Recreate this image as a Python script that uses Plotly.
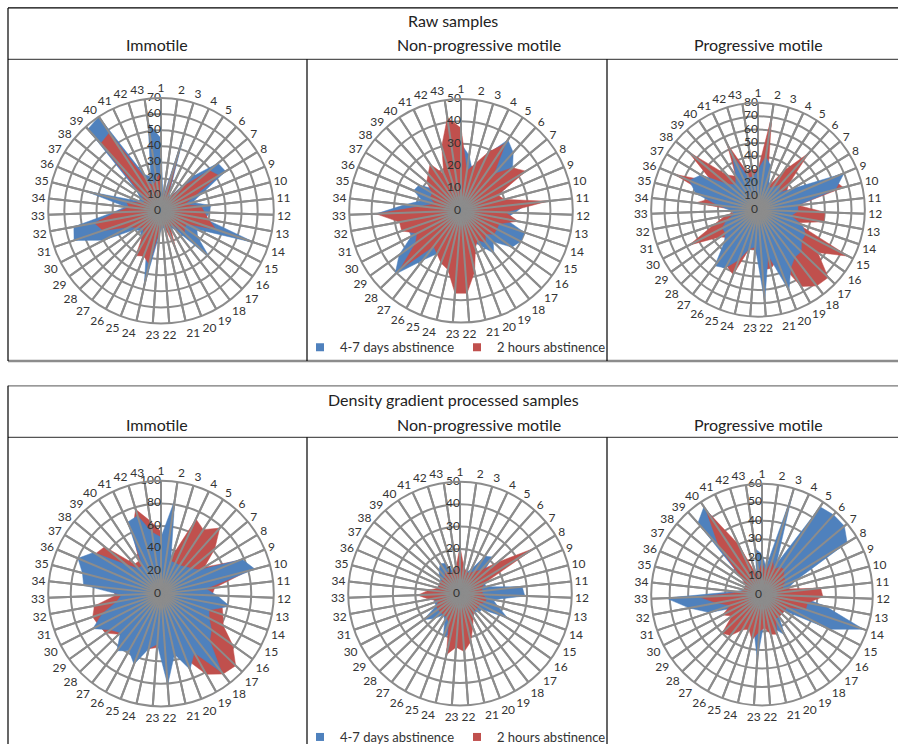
import plotly.graph_objects as go

W, H = 898, 752
categories = [str(i) for i in range(1, 44)]

# ---------- data ----------
raw_immotile_4_7d = [45, 8, 52, 12, 10, 28, 46, 47, 28, 20, 31, 30, 28, 62, 25, 28, 42, 15, 12, 15, 12, 10,
                     15, 48, 25, 25, 20, 18, 20, 40, 57, 55, 30, 22, 49, 15, 15, 20, 68, 70, 25, 22, 55]
raw_immotile_2h = [24, 5, 40, 10, 10, 20, 39, 42, 22, 15, 25, 27, 30, 36, 18, 18, 20, 10, 12, 26, 10, 8,
                   12, 34, 30, 32, 18, 15, 18, 22, 38, 42, 28, 20, 22, 12, 12, 16, 56, 58, 20, 16, 20]

raw_nonprog_4_7d = [30, 25, 18, 28, 38, 35, 30, 30, 18, 18, 30, 24, 20, 30, 30, 28, 20, 24, 18, 15, 20, 25,
                    25, 22, 22, 22, 28, 41, 34, 25, 25, 25, 38, 25, 18, 23, 22, 15, 15, 15, 15, 18, 25]
raw_nonprog_2h = [37, 18, 22, 29, 36, 22, 30, 34, 18, 20, 39, 20, 26, 18, 18, 18, 15, 18, 15, 18, 28, 37,
                  37, 27, 25, 22, 20, 38, 25, 22, 28, 28, 38, 18, 12, 15, 15, 20, 22, 25, 18, 30, 42]

raw_prog_4_7d = [30, 40, 34, 18, 20, 25, 20, 30, 70, 60, 30, 30, 25, 35, 40, 40, 45, 45, 50, 65, 35, 69,
                 28, 30, 40, 50, 53, 35, 30, 30, 25, 18, 20, 30, 48, 56, 50, 30, 25, 30, 45, 25, 25]
raw_prog_2h = [30, 71, 25, 20, 35, 57, 30, 25, 60, 66, 30, 50, 50, 30, 76, 55, 73, 72, 66, 40, 45, 45,
               30, 30, 52, 48, 40, 30, 35, 58, 35, 25, 15, 47, 35, 68, 40, 68, 35, 30, 55, 30, 30]

dg_immotile_4_7d = [50, 84, 30, 30, 30, 32, 35, 40, 78, 86, 40, 50, 62, 45, 48, 55, 60, 88, 60, 72, 55, 81,
                    45, 50, 67, 58, 64, 50, 55, 68, 55, 40, 35, 69, 72, 80, 70, 40, 30, 30, 70, 72, 55]
dg_immotile_2h = [55, 30, 35, 73, 68, 78, 62, 45, 75, 80, 48, 45, 55, 58, 62, 78, 92, 90, 82, 62, 56, 50,
                  48, 50, 50, 50, 50, 52, 60, 62, 64, 60, 40, 45, 60, 68, 68, 65, 35, 35, 60, 78, 65]

dg_nonprog_4_7d = [10, 12, 10, 12, 20, 22, 12, 15, 12, 12, 28, 29, 15, 18, 24, 12, 12, 10, 12, 14, 12, 10,
                   14, 18, 21, 14, 12, 16, 20, 12, 12, 12, 16, 12, 10, 10, 10, 12, 14, 16, 15, 10, 10]
dg_nonprog_2h = [21, 12, 10, 10, 12, 14, 22, 39, 12, 10, 10, 10, 12, 12, 10, 10, 10, 10, 12, 16, 22, 26,
                 24, 28, 14, 12, 12, 12, 12, 12, 10, 14, 19, 14, 10, 10, 10, 10, 10, 12, 10, 10, 12]

dg_prog_4_7d = [22, 15, 58, 18, 57, 58, 58, 54, 20, 15, 15, 20, 35, 58, 41, 15, 15, 15, 25, 20, 15, 15,
                35, 20, 15, 15, 20, 20, 15, 15, 30, 40, 52, 15, 10, 10, 10, 15, 52, 57, 25, 10, 25]
dg_prog_2h = [18, 12, 20, 15, 18, 18, 15, 15, 12, 12, 32, 33, 25, 25, 15, 15, 15, 15, 15, 23, 22, 18,
              20, 25, 20, 22, 28, 30, 20, 24, 18, 25, 34, 12, 10, 10, 10, 15, 35, 55, 30, 12, 12]

series_names = ["4-7 days abstinence", "2 hours abstinence"]
BLUE = "#4F81BD"
RED = "#C0504D"
GRID = "#8C8C8C"
TXT = "#333333"
FONT = "Lato, Open Sans, sans-serif"

charts = [
    dict(b=raw_immotile_4_7d, r=raw_immotile_2h, rmax=70, dtick=10, cx=161, cy=213, R=114, red_top=True),
    dict(b=raw_nonprog_4_7d, r=raw_nonprog_2h, rmax=50, dtick=10, cx=461, cy=213, R=113, red_top=True),
    dict(b=raw_prog_4_7d, r=raw_prog_2h, rmax=80, dtick=10, cx=758, cy=212, R=108, red_top=False),
    dict(b=dg_immotile_4_7d, r=dg_immotile_2h, rmax=100, dtick=20, cx=161, cy=600, R=114, red_top=False),
    dict(b=dg_nonprog_4_7d, r=dg_nonprog_2h, rmax=50, dtick=10, cx=460, cy=600, R=113, red_top=True),
    dict(b=dg_prog_4_7d, r=dg_prog_2h, rmax=60, dtick=10, cx=762, cy=601, R=112, red_top=True),
]

fig = go.Figure()


def px_x(x):
    return x / W


def px_y(y):
    return 1 - y / H


for i, ch in enumerate(charts):
    name = "polar" if i == 0 else f"polar{i + 1}"
    sub = name
    blue_tr = go.Scatterpolar(r=ch["b"] + [ch["b"][0]], theta=categories + [categories[0]],
                              mode="lines", fill="toself", fillcolor=BLUE,
                              line=dict(color=BLUE, width=0.5), subplot=sub,
                              showlegend=False, hoverinfo="skip", name=series_names[0])
    red_tr = go.Scatterpolar(r=ch["r"] + [ch["r"][0]], theta=categories + [categories[0]],
                             mode="lines", fill="toself", fillcolor=RED,
                             line=dict(color=RED, width=0.5), subplot=sub,
                             showlegend=False, hoverinfo="skip", name=series_names[1])
    order = [blue_tr, red_tr] if ch["red_top"] else [red_tr, blue_tr]
    for t in order:
        fig.add_trace(t)
    # category spokes drawn above the fills, as in the original
    th, rr = [], []
    for c in categories:
        th += [c, c, None]
        rr += [0, ch["rmax"], None]
    fig.add_trace(go.Scatterpolar(r=rr, theta=th, mode="lines", line=dict(color=GRID, width=2),
                                  subplot=sub, showlegend=False, hoverinfo="skip", connectgaps=False))
    # radial value labels, left of the vertical axis
    ticks = list(range(0, ch["rmax"] + 1, ch["dtick"]))
    fig.add_trace(go.Scatterpolar(r=ticks, theta=[categories[0]] * len(ticks), mode="text",
                                  text=[str(v) for v in ticks], textposition="middle left",
                                  textfont=dict(family=FONT, size=12, color=TXT),
                                  subplot=sub, showlegend=False, hoverinfo="skip"))
    cx, cy, R = ch["cx"], ch["cy"], ch["R"]
    fig.layout[name] = dict(
        domain=dict(x=[px_x(cx - R), px_x(cx + R)], y=[px_y(cy + R), px_y(cy - R)]),
        bgcolor="white",
        angularaxis=dict(type="category", categoryarray=categories, direction="clockwise",
                         rotation=90, showgrid=True, gridcolor=GRID, gridwidth=2,
                         showline=True, linecolor=GRID, linewidth=2, ticks="",
                         tickfont=dict(family=FONT, size=12, color=TXT)),
        radialaxis=dict(range=[0, ch["rmax"]], dtick=ch["dtick"], tick0=0, angle=90,
                        showticklabels=False, showgrid=True, gridcolor=GRID, gridwidth=2,
                        showline=False, ticks=""),
    )

# legend entries (middle column charts)
for sub, leg in (("polar2", "legend"), ("polar5", "legend2")):
    for nm, col in zip(series_names, (BLUE, RED)):
        fig.add_trace(go.Scatterpolar(r=[None], theta=[None], mode="markers", name=nm,
                                      marker=dict(symbol="square", size=8, color=col),
                                      subplot=sub, legend=leg, showlegend=True, hoverinfo="skip"))

leg_common = dict(orientation="h", xanchor="left", yanchor="middle", bgcolor="rgba(0,0,0,0)",
                  font=dict(family=FONT, size=13, color=TXT), entrywidth=112, entrywidthmode="pixels",
                  itemwidth=30, tracegroupgap=0)
fig.update_layout(legend=dict(x=px_x(300), y=px_y(351), **leg_common),
                  legend2=dict(x=px_x(300), y=px_y(745), **leg_common))

# table frames
shapes = []


def hline(x0, x1, y, color="black", w=1.2):
    shapes.append(dict(type="line", xref="paper", yref="paper", x0=px_x(x0), x1=px_x(x1),
                       y0=px_y(y), y1=px_y(y), line=dict(color=color, width=w)))


def vline(x, y0, y1, color="black", w=1.2):
    shapes.append(dict(type="line", xref="paper", yref="paper", x0=px_x(x), x1=px_x(x),
                       y0=px_y(y0), y1=px_y(y1), line=dict(color=color, width=w)))


# top table
hline(8, 898, 8)
hline(8, 898, 60, color="#555555")
hline(8, 898, 365, color="#8C8C8C", w=2.5)
vline(8, 8, 365)
vline(307, 60, 365)
vline(607, 60, 365)
# bottom table
hline(8, 898, 390, color="#777777")
hline(8, 898, 442, color="#555555")
vline(8, 390, 752)
vline(307, 442, 752)
vline(607, 442, 752)

fig.update_layout(shapes=shapes)

HF = dict(family=FONT, size=16, color="#222222")
ann = []


def label(text, x, y):
    ann.append(dict(text=text, x=px_x(x), y=px_y(y), xref="paper", yref="paper", showarrow=False,
                    xanchor="center", yanchor="middle", font=HF))


label("Raw samples", 453, 21)
label("Immotile", 157, 45)
label("Non-progressive motile", 479, 45)
label("Progressive motile", 758, 45)
label("Density gradient processed samples", 453, 404)
label("Immotile", 157, 429)
label("Non-progressive motile", 479, 429)
label("Progressive motile", 758, 429)
fig.update_layout(annotations=ann)

fig.update_layout(width=W, height=H, margin=dict(l=0, r=0, t=0, b=0), paper_bgcolor="white",
                  plot_bgcolor="white")

fig.write_html("out.html", config={"displayModeBar": False},
               post_script="document.body.style.margin='0px';document.body.style.overflow='hidden';")
